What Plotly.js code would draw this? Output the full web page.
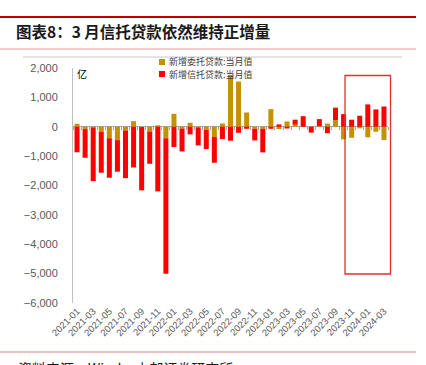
<!DOCTYPE html>
<html>
<head>
<meta charset="utf-8">
<script src="https://cdn.plot.ly/plotly-3.0.1.min.js"></script>
<style>html,body{margin:0;padding:0;background:#fff;}#chart{width:426px;height:365px;}</style>
</head>
<body>
<div id="chart"></div>
<script>
const months = ["2021-01","2021-02","2021-03","2021-04","2021-05","2021-06","2021-07","2021-08","2021-09","2021-10","2021-11","2021-12",
"2022-01","2022-02","2022-03","2022-04","2022-05","2022-06","2022-07","2022-08","2022-09","2022-10","2022-11","2022-12",
"2023-01","2023-02","2023-03","2023-04","2023-05","2023-06","2023-07","2023-08","2023-09","2023-10","2023-11","2023-12",
"2024-01","2024-02","2024-03"];
const entrustedLoans = [100,-80,-20,-180,-390,-455,-125,190,-10,-160,50,-390,
440,-60,135,-20,-100,-350,110,1770,1540,485,-70,-70,
600,-80,180,70,0,0,20,110,225,-430,-375,-55,
-360,-170,-450];
const trustLoans = [-870,-975,-1830,-1385,-1345,-1075,-1625,-1385,-2155,-1100,-2200,-4610,
-690,-780,-260,-615,-660,-875,-420,-475,-205,-70,-395,-805,
-70,80,-60,170,360,-200,240,-220,425,430,240,375,
760,590,690];
const tickLabels = months.filter((m,i)=>i%2===0);
const seriesNames = ["新增委托贷款:当月值","新增信托贷款:当月值"];
const seriesColors = ['#c39200','#ff0000'];

const traces = [
  {type:'bar', x:months, y:entrustedLoans, name:seriesNames[0], marker:{color:seriesColors[0]}},
  {type:'bar', x:months, y:trustLoans, name:seriesNames[1], marker:{color:seriesColors[1]}},
  {type:'bar', x:months, y:months.map(()=>null), xaxis:'x2', showlegend:false, hoverinfo:'skip'}
];
const px = v => (v-73)/315;
const py = v => (303-v)/235;
const legendRows = [62, 74];
const annotations = [
  {text:'亿', xref:'paper', yref:'paper', x:px(75), y:py(73), xanchor:'left', yanchor:'middle', showarrow:false,
    font:{family:'Noto Sans CJK SC', size:10, color:'#000'}},
  {text:'资料来源：Wind，中邮证券研究所', xref:'paper', yref:'paper', x:px(16), y:py(356), xanchor:'left', yanchor:'top', showarrow:false,
    font:{family:'Noto Sans CJK SC', size:14, color:'#1a1a1a'}}
];
const shapes = [
  {type:'line', xref:'paper', yref:'paper', x0:px(0), x1:px(416), y0:py(17), y1:py(17), line:{color:'#c00000', width:2}},
  {type:'line', xref:'paper', yref:'paper', x0:px(0), x1:px(416), y0:py(49), y1:py(49), line:{color:'#e59a9a', width:1}},
  {type:'line', xref:'paper', yref:'paper', x0:px(23), x1:px(402), y0:py(57), y1:py(57), line:{color:'#c8c8c8', width:1}},
  {type:'line', xref:'paper', yref:'paper', x0:px(0), x1:px(416), y0:py(352), y1:py(352), line:{color:'#e08080', width:1}},
  {type:'rect', xref:'paper', yref:'paper', x0:px(345), x1:px(390.5), y0:py(274), y1:py(75.5), line:{color:'#e03030', width:1.3}}
];
seriesNames.forEach((n,i)=>{
  const r = legendRows[i];
  shapes.push({type:'rect', xref:'paper', yref:'paper', x0:px(159), x1:px(165), y0:py(r+3), y1:py(r-3),
    fillcolor:seriesColors[i], line:{width:0}});
  annotations.push({text:n, xref:'paper', yref:'paper', x:px(167), y:py(r), xanchor:'left', yanchor:'middle', showarrow:false,
    font:{family:'Noto Sans CJK SC', size:9, color:'#404040'}});
});
const layout = {
  width:426, height:365,
  margin:{l:73, r:38, t:68, b:62},
  paper_bgcolor:'#fff', plot_bgcolor:'#fff',
  barmode:'relative', bargap:0.38,
  font:{family:'Liberation Sans, Arial, sans-serif', color:'#595959'},
  title:{text:'图表8：3 月信托贷款依然维持正增量', x:16/426, xanchor:'left', xref:'container', y:1-33/365, yanchor:'middle', yref:'container',
    font:{family:'Noto Sans CJK SC', size:15.5, color:'#1a1a1a', weight:600}},
  showlegend:false,
  xaxis:{type:'category', categoryorder:'array', categoryarray:months, tickvals:tickLabels, ticktext:tickLabels,
    tickangle:-45, ticks:'', showline:false, showgrid:false, zeroline:false,
    tickfont:{size:9.5, color:'#595959'}},
  xaxis2:{type:'category', overlaying:'x', matches:'x', anchor:'free', position:py(126.3), side:'bottom',
    showline:false, showgrid:false, zeroline:false, ticks:'outside', ticklen:3, tickcolor:'#a6a6a6',
    tickson:'boundaries', dtick:1, showticklabels:false},
  yaxis:{range:[-6000,2000], dtick:1000, tickformat:',', showgrid:false, zeroline:true, zerolinecolor:'#a6a6a6', zerolinewidth:1,
    showline:true, linecolor:'#bfbfbf', linewidth:1, ticks:'', ticklabelstandoff:12,
    tickfont:{size:11, color:'#595959'}},
  annotations:annotations,
  shapes:shapes
};
Plotly.newPlot('chart', traces, layout, {staticPlot:true});
</script>
</body>
</html>
